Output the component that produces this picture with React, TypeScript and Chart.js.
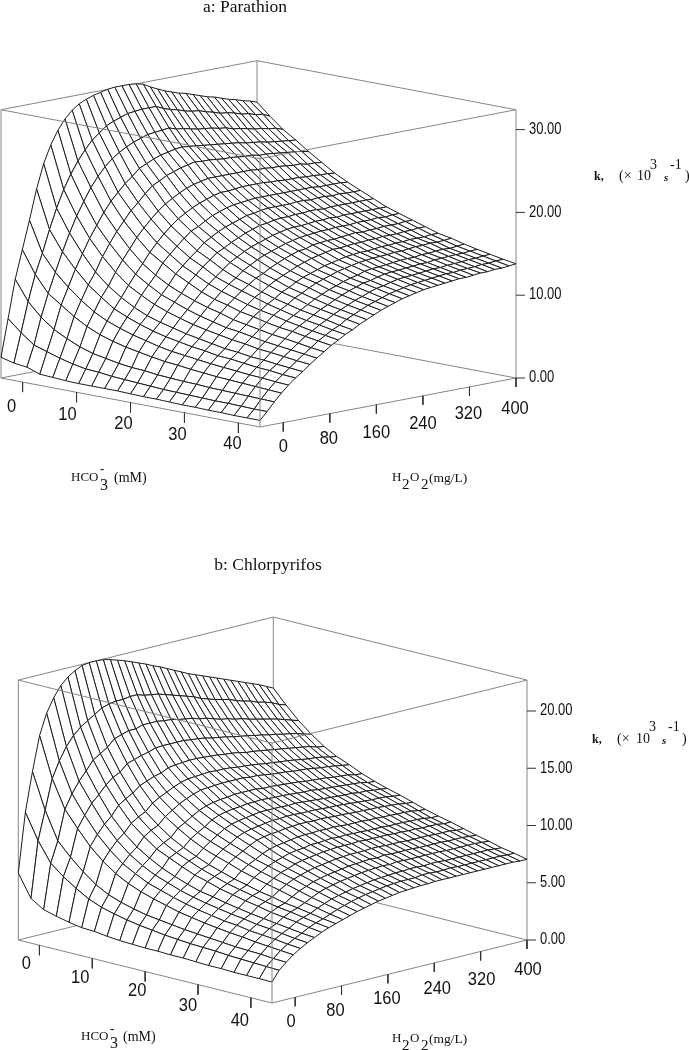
import React, { useEffect, useRef } from "react";
import { Chart, registerables } from "chart.js";

Chart.register(...registerables);

// HCO3- (mM) grid lines and H2O2 (mg/L) grid lines of both surfaces
const hco3Grid = [-4, -1.6, 0.8, 3.2, 5.6, 8, 10.4, 12.8, 15.2, 17.6, 20, 22.4, 24.8, 27.2, 29.6, 32, 34.4, 36.8, 39.2, 41.6, 44];
const h2o2Grid = [-40, -27.78, -15.56, -3.33, 8.89, 21.11, 33.33, 45.56, 57.78, 70, 82.22, 94.44, 106.67, 118.89, 131.11, 143.33, 155.56, 167.78, 180, 192.22, 204.44, 216.67, 228.89, 241.11, 253.33, 265.56, 277.78, 290, 302.22, 314.44, 326.67, 338.89, 351.11, 363.33, 375.56, 387.78, 400];

const hco3Ticks = [0, 10, 20, 30, 40];
const h2o2Ticks = [0, 80, 160, 240, 320, 400];
const parathionKTicks = [0, 10, 20, 30];
const chlorpyrifosKTicks = [0, 5, 10, 15, 20];

// Parathion: k along H2O2, one list per HCO3- grid line
const pk00 = [2.5, 7, 11.6, 15, 18.4, 22, 24.9, 27, 28.6, 29.8, 30.7, 31.3, 31.7, 32, 32.2, 32.4, 32.5, 32.5, 32.5, 32.4, 32.2, 31.7, 31.3, 30.9, 30.6, 30.3, 30.1, 29.8, 29.5, 29.2, 29, 28.7, 28.4, 28.2, 27.9, 27.7, 27.4];
const pk01 = [2.1, 5.6, 9.2, 12.3, 14.7, 17.4, 19.8, 21.9, 23.6, 25, 26.2, 27.2, 27.9, 28.6, 29, 29.3, 29.6, 29.7, 29.8, 29.8, 29.8, 29.4, 29.1, 28.9, 28.6, 28.4, 28.3, 28, 27.8, 27.5, 27.4, 27.2, 26.9, 26.8, 26.5, 26.4, 26];
const pk02 = [1.9, 4.4, 7.6, 10.3, 12.7, 15, 17.1, 19, 20.6, 22.1, 23.3, 24.3, 25.1, 25.7, 26.2, 26.6, 26.9, 27.2, 27.3, 27.4, 27.5, 27.2, 27.1, 26.9, 26.7, 26.6, 26.5, 26.3, 26.2, 25.9, 25.8, 25.6, 25.4, 25.3, 25.1, 25, 24.7];
const pk03 = [1.35, 3.9, 6.4, 9.2, 11.2, 13.2, 14.9, 16.6, 18, 19.4, 20.6, 21.5, 22.4, 23.1, 23.9, 24.3, 24.7, 25, 25.2, 25.4, 25.5, 25.4, 25.3, 25.2, 25.1, 25, 24.9, 24.8, 24.7, 24.5, 24.4, 24.3, 24.1, 24, 23.9, 23.8, 23.7];
const pk04 = [1.25, 3.4, 5.6, 8.1, 9.9, 11.6, 13, 14.7, 16.1, 17.4, 18.5, 19.6, 20.4, 21.3, 22.1, 22.5, 23, 23.3, 23.6, 23.8, 24, 23.9, 23.9, 23.8, 23.7, 23.7, 23.6, 23.5, 23.5, 23.3, 23.3, 23.2, 23.1, 23, 22.9, 22.8, 22.6];
const pk05 = [1.15, 3, 4.9, 7.2, 8.8, 10.4, 11.6, 13.1, 14.4, 15.6, 16.8, 17.8, 18.7, 19.5, 20.2, 20.7, 21.2, 21.6, 21.9, 22.1, 22.3, 22.3, 22.3, 22.3, 22.3, 22.3, 22.3, 22.2, 22.2, 22.1, 22.1, 22, 21.9, 21.9, 21.7, 21.7, 21.6];
const pk06 = [1.1, 2.7, 4.4, 6.5, 8, 9.3, 10.5, 11.8, 13, 14.1, 15.3, 16.3, 17.2, 18, 18.7, 19.2, 19.7, 20.1, 20.4, 20.7, 20.9, 20.9, 21, 21.1, 21.1, 21.1, 21.1, 21, 21, 20.9, 20.9, 20.9, 20.8, 20.8, 20.7, 20.7, 20.6];
const pk07 = [1.1, 2.6, 4.1, 6, 7.4, 8.6, 9.6, 10.9, 12, 13, 14.3, 15.2, 16, 16.8, 17.5, 17.9, 18.4, 18.9, 19.2, 19.5, 19.7, 19.8, 19.9, 20, 20, 20, 20, 20, 20, 20, 20, 20, 19.9, 19.9, 19.9, 19.9, 19.8];
const pk08 = [1.1, 2.4, 3.8, 5.6, 6.9, 8, 8.9, 10.1, 11.1, 12.1, 13.3, 14.1, 14.9, 15.6, 16.4, 16.9, 17.4, 17.8, 18.1, 18.4, 18.7, 18.8, 19, 19.1, 19.1, 19.1, 19.1, 19.2, 19.2, 19.1, 19.2, 19.2, 19.1, 19.2, 19.1, 19.1, 19.1];
const pk09 = [1.1, 2.3, 3.6, 5.3, 6.5, 7.5, 8.4, 9.5, 10.5, 11.4, 12.5, 13.3, 14.1, 14.8, 15.5, 15.9, 16.4, 16.8, 17.2, 17.5, 17.8, 17.9, 18.1, 18.2, 18.2, 18.3, 18.3, 18.4, 18.4, 18.3, 18.4, 18.4, 18.4, 18.4, 18.4, 18.4, 18.4];
const pk10 = [1.05, 2.2, 3.5, 5, 6.1, 7.1, 8, 9, 9.9, 10.8, 11.7, 12.5, 13.2, 13.9, 14.6, 15.1, 15.6, 16, 16.3, 16.6, 16.9, 17.1, 17.3, 17.4, 17.4, 17.5, 17.6, 17.6, 17.7, 17.6, 17.7, 17.7, 17.7, 17.7, 17.7, 17.7, 17.7];
const pk11 = [1, 2.1, 3.3, 4.75, 5.8, 6.8, 7.6, 8.55, 9.4, 10.3, 11.1, 11.9, 12.6, 13.2, 13.9, 14.4, 14.9, 15.3, 15.6, 15.9, 16.2, 16.4, 16.6, 16.7, 16.8, 16.9, 16.9, 17, 17, 17, 17.1, 17.1, 17.1, 17.2, 17.1, 17.2, 17.2];
const pk12 = [1, 2, 3.2, 4.6, 5.6, 6.5, 7.3, 8.2, 9, 9.9, 10.7, 11.4, 12.1, 12.7, 13.3, 13.7, 14.2, 14.6, 15, 15.3, 15.6, 15.7, 16, 16.1, 16.2, 16.2, 16.3, 16.4, 16.5, 16.4, 16.5, 16.5, 16.6, 16.6, 16.6, 16.7, 16.7];
const pk13 = [0.95, 1.95, 3.1, 4.4, 5.4, 6.3, 7, 7.9, 8.6, 9.4, 10.2, 10.9, 11.6, 12.1, 12.7, 13.2, 13.6, 14, 14.4, 14.7, 15, 15.2, 15.4, 15.6, 15.6, 15.7, 15.8, 15.8, 15.9, 15.9, 16, 16, 16, 16.1, 16.1, 16.2, 16.2];
const pk14 = [0.9, 1.9, 3.05, 4.25, 5.2, 6, 6.7, 7.6, 8.4, 9.1, 9.9, 10.5, 11.1, 11.6, 12.2, 12.6, 13.1, 13.5, 13.8, 14.1, 14.4, 14.6, 14.8, 15, 15.1, 15.2, 15.2, 15.3, 15.4, 15.4, 15.5, 15.5, 15.6, 15.6, 15.6, 15.7, 15.7];
const pk15 = [0.9, 1.85, 2.95, 4.1, 5.05, 5.9, 6.55, 7.4, 8.1, 8.8, 9.5, 10.2, 10.7, 11.2, 11.8, 12.2, 12.7, 13.1, 13.4, 13.7, 14, 14.2, 14.4, 14.6, 14.7, 14.8, 14.85, 14.9, 15, 15, 15.1, 15.2, 15.2, 15.3, 15.25, 15.3, 15.4];
const pk16 = [0.85, 1.8, 2.9, 4, 4.9, 5.7, 6.3, 7.1, 7.8, 8.5, 9.2, 9.8, 10.3, 10.8, 11.3, 11.8, 12.2, 12.6, 12.9, 13.25, 13.5, 13.7, 14, 14.15, 14.2, 14.3, 14.4, 14.5, 14.55, 14.55, 14.7, 14.7, 14.8, 14.85, 14.8, 14.9, 15];
const pk17 = [0.85, 1.8, 2.85, 3.9, 4.75, 5.5, 6.2, 6.95, 7.6, 8.3, 9, 9.5, 10, 10.5, 11, 11.4, 11.85, 12.25, 12.6, 12.9, 13.2, 13.35, 13.6, 13.8, 13.9, 13.95, 14.05, 14.1, 14.2, 14.2, 14.35, 14.4, 14.45, 14.5, 14.5, 14.6, 14.65];
const pk18 = [0.8, 1.75, 2.8, 3.8, 4.65, 5.4, 6, 6.75, 7.4, 8.05, 8.7, 9.2, 9.75, 10.2, 10.7, 11.1, 11.5, 11.9, 12.2, 12.55, 12.85, 13, 13.25, 13.45, 13.55, 13.6, 13.7, 13.8, 13.9, 13.9, 14, 14.05, 14.1, 14.2, 14.2, 14.3, 14.35];
const pk19 = [0.8, 1.7, 2.75, 3.7, 4.5, 5.2, 5.85, 6.55, 7.2, 7.8, 8.45, 8.95, 9.45, 9.85, 10.4, 10.8, 11.2, 11.6, 11.9, 12.2, 12.5, 12.7, 12.9, 13.1, 13.2, 13.3, 13.4, 13.5, 13.6, 13.6, 13.7, 13.75, 13.8, 13.9, 13.9, 14, 14.05];
const pk20 = [0.8, 1.7, 2.7, 3.6, 4.4, 5.1, 5.7, 6.4, 7, 7.6, 8.2, 8.7, 9.2, 9.6, 10.1, 10.5, 10.9, 11.3, 11.6, 11.9, 12.2, 12.4, 12.6, 12.8, 12.9, 13, 13.1, 13.2, 13.3, 13.3, 13.4, 13.5, 13.5, 13.6, 13.6, 13.7, 13.8];
const parathionK = [pk00, pk01, pk02, pk03, pk04, pk05, pk06, pk07, pk08, pk09, pk10, pk11, pk12, pk13, pk14, pk15, pk16, pk17, pk18, pk19, pk20];

// Chlorpyrifos: k along H2O2, one list per HCO3- grid line
const ck00 = [5.85, 11, 14.4, 17.4, 19.2, 20.4, 21.3, 21.9, 22.3, 22.6, 22.7, 22.7, 22.65, 22.5, 22.3, 22.1, 21.85, 21.6, 21.35, 21.05, 20.8, 20.5, 20.2, 19.9, 19.6, 19.35, 19.1, 18.85, 18.6, 18.35, 18.1, 17.85, 17.6, 17.35, 17.1, 16.8, 16.5];
const ck01 = [3.9, 8.8, 11.3, 13.9, 15.3, 16.4, 17.2, 17.8, 18.2, 18.6, 19, 19.2, 19.3, 19.3, 19.4, 19.4, 19.2, 19.1, 19, 18.8, 18.6, 18.4, 18.2, 18, 17.7, 17.5, 17.3, 17.15, 17, 16.75, 16.55, 16.4, 16.15, 16, 15.8, 15.5, 15.3];
const ck02 = [3.2, 7.1, 8.9, 11.5, 12.7, 13.65, 14.4, 15.2, 15.6, 16, 16.6, 16.8, 17, 17, 17.2, 17.2, 17.2, 17.1, 17.05, 16.9, 16.8, 16.7, 16.5, 16.4, 16.2, 16, 15.9, 15.7, 15.6, 15.4, 15.25, 15.1, 14.95, 14.8, 14.6, 14.4, 14.2];
const ck03 = [2.9, 6.2, 7.75, 10.1, 11.1, 12, 12.6, 13.3, 13.8, 14.1, 14.7, 14.9, 15.1, 15.25, 15.45, 15.5, 15.5, 15.5, 15.5, 15.4, 15.35, 15.25, 15.1, 15, 14.9, 14.75, 14.65, 14.55, 14.4, 14.3, 14.15, 14.05, 13.9, 13.8, 13.65, 13.45, 13.3];
const ck04 = [2.65, 5.45, 6.75, 8.8, 9.7, 10.45, 11, 11.8, 12.2, 12.55, 13.05, 13.3, 13.55, 13.7, 14, 14.1, 14.15, 14.2, 14.2, 14.15, 14.1, 14.05, 13.95, 13.9, 13.8, 13.65, 13.6, 13.5, 13.4, 13.3, 13.2, 13.1, 13, 12.9, 12.8, 12.6, 12.5];
const ck05 = [2.45, 4.8, 5.9, 7.8, 8.6, 9.3, 9.8, 10.5, 10.9, 11.2, 11.8, 12.15, 12.45, 12.75, 13, 13.15, 13.2, 13.25, 13.3, 13.25, 13.25, 13.2, 13.1, 13.05, 13, 12.9, 12.8, 12.75, 12.65, 12.6, 12.5, 12.4, 12.3, 12.25, 12.15, 12, 11.9];
const ck06 = [2.4, 4.35, 5.3, 7, 7.7, 8.35, 8.85, 9.6, 10, 10.3, 10.9, 11.3, 11.7, 12, 12.25, 12.45, 12.5, 12.55, 12.6, 12.6, 12.6, 12.6, 12.5, 12.5, 12.4, 12.3, 12.25, 12.2, 12.1, 12.05, 12, 11.9, 11.8, 11.75, 11.65, 11.55, 11.45];
const ck07 = [2.25, 4.05, 4.9, 6.4, 7.1, 7.65, 8.15, 8.8, 9.2, 9.5, 10.15, 10.5, 10.9, 11.25, 11.5, 11.65, 11.75, 11.8, 11.9, 11.9, 11.9, 11.9, 11.8, 11.8, 11.75, 11.7, 11.65, 11.6, 11.5, 11.45, 11.4, 11.35, 11.25, 11.2, 11.15, 11, 10.95];
const ck08 = [2.15, 3.8, 4.6, 5.95, 6.55, 7.1, 7.55, 8.3, 8.6, 8.9, 9.5, 9.9, 10.25, 10.7, 10.95, 11.1, 11.2, 11.25, 11.35, 11.35, 11.4, 11.35, 11.3, 11.3, 11.25, 11.2, 11.15, 11.15, 11.05, 11, 10.95, 10.9, 10.85, 10.8, 10.75, 10.6, 10.55];
const ck09 = [2.1, 3.6, 4.35, 5.6, 6.2, 6.7, 7.1, 7.8, 8.15, 8.4, 8.95, 9.4, 9.8, 10.2, 10.45, 10.6, 10.7, 10.8, 10.9, 10.9, 10.9, 10.9, 10.85, 10.9, 10.85, 10.8, 10.75, 10.7, 10.65, 10.6, 10.55, 10.55, 10.45, 10.45, 10.35, 10.3, 10.2];
const ck10 = [2.05, 3.45, 4.2, 5.3, 5.85, 6.3, 6.7, 7.35, 7.7, 7.95, 8.55, 9, 9.35, 9.75, 10, 10.15, 10.25, 10.35, 10.45, 10.45, 10.5, 10.5, 10.45, 10.45, 10.45, 10.4, 10.35, 10.35, 10.3, 10.25, 10.2, 10.15, 10.1, 10.1, 10.05, 9.95, 9.9];
const ck11 = [2.05, 3.3, 4.05, 5, 5.55, 6, 6.35, 7.05, 7.35, 7.6, 8.2, 8.6, 8.95, 9.3, 9.6, 9.75, 9.85, 9.9, 10, 10.05, 10.1, 10.1, 10.05, 10.1, 10.05, 10, 10, 9.95, 9.9, 9.9, 9.85, 9.85, 9.8, 9.75, 9.7, 9.6, 9.55];
const ck12 = [2, 3.2, 3.9, 4.8, 5.3, 5.75, 6.15, 6.7, 7, 7.25, 7.8, 8.2, 8.5, 8.85, 9.1, 9.25, 9.35, 9.45, 9.55, 9.6, 9.6, 9.65, 9.6, 9.65, 9.6, 9.55, 9.55, 9.55, 9.5, 9.5, 9.45, 9.45, 9.4, 9.4, 9.35, 9.25, 9.2];
const ck13 = [2, 3.1, 3.8, 4.6, 5.1, 5.55, 5.9, 6.45, 6.75, 7, 7.5, 7.85, 8.2, 8.45, 8.65, 8.85, 8.95, 9, 9.15, 9.15, 9.2, 9.25, 9.2, 9.25, 9.2, 9.2, 9.15, 9.15, 9.15, 9.1, 9.1, 9.1, 9.05, 9.05, 9, 8.9, 8.9];
const ck14 = [1.95, 3.05, 3.7, 4.45, 4.9, 5.35, 5.7, 6.2, 6.5, 6.7, 7.2, 7.55, 7.9, 8.1, 8.35, 8.5, 8.6, 8.7, 8.8, 8.85, 8.9, 8.9, 8.9, 8.95, 8.9, 8.9, 8.9, 8.9, 8.85, 8.85, 8.8, 8.8, 8.75, 8.75, 8.75, 8.65, 8.65];
const ck15 = [1.9, 3, 3.6, 4.3, 4.8, 5.2, 5.5, 6, 6.25, 6.5, 6.95, 7.3, 7.6, 7.8, 8, 8.15, 8.25, 8.35, 8.45, 8.5, 8.55, 8.55, 8.55, 8.6, 8.6, 8.55, 8.55, 8.55, 8.5, 8.5, 8.5, 8.5, 8.45, 8.45, 8.45, 8.35, 8.35];
const ck16 = [1.9, 2.9, 3.5, 4.2, 4.6, 5, 5.35, 5.75, 6.05, 6.25, 6.65, 7, 7.25, 7.5, 7.65, 7.8, 7.9, 8, 8.1, 8.15, 8.2, 8.25, 8.2, 8.3, 8.25, 8.25, 8.25, 8.25, 8.2, 8.2, 8.2, 8.2, 8.15, 8.15, 8.15, 8.1, 8.05];
const ck17 = [1.85, 2.85, 3.45, 4.05, 4.5, 4.9, 5.2, 5.6, 5.9, 6.1, 6.4, 6.7, 7, 7.2, 7.35, 7.5, 7.6, 7.7, 7.8, 7.85, 7.9, 7.95, 7.9, 8, 7.95, 7.95, 7.95, 7.95, 7.95, 7.95, 7.9, 7.9, 7.9, 7.9, 7.9, 7.85, 7.8];
const ck18 = [1.85, 2.8, 3.4, 3.95, 4.4, 4.75, 5.05, 5.45, 5.7, 5.9, 6.2, 6.45, 6.7, 6.85, 7, 7.15, 7.25, 7.35, 7.45, 7.5, 7.55, 7.6, 7.6, 7.65, 7.65, 7.6, 7.65, 7.65, 7.6, 7.6, 7.6, 7.6, 7.6, 7.6, 7.6, 7.55, 7.5];
const ck19 = [1.85, 2.75, 3.3, 3.85, 4.25, 4.6, 4.9, 5.25, 5.5, 5.7, 5.95, 6.2, 6.4, 6.6, 6.75, 6.9, 7, 7.1, 7.2, 7.25, 7.3, 7.3, 7.3, 7.4, 7.4, 7.35, 7.35, 7.4, 7.35, 7.35, 7.35, 7.35, 7.35, 7.35, 7.35, 7.3, 7.3];
const ck20 = [1.83, 2.7, 3.25, 3.75, 4.15, 4.5, 4.8, 5.1, 5.35, 5.55, 5.75, 5.95, 6.15, 6.3, 6.45, 6.6, 6.7, 6.8, 6.9, 6.95, 7, 7.05, 7.05, 7.1, 7.1, 7.1, 7.1, 7.1, 7.1, 7.1, 7.1, 7.1, 7.1, 7.1, 7.1, 7.05, 7.05];
const chlorpyrifosK = [ck00, ck01, ck02, ck03, ck04, ck05, ck06, ck07, ck08, ck09, ck10, ck11, ck12, ck13, ck14, ck15, ck16, ck17, ck18, ck19, ck20];

const SANS = '"Liberation Sans", Arial, sans-serif';
const SERIF = '"Liberation Serif", "Times New Roman", serif';
const hMin = hco3Grid[0];
const hMax = hco3Grid[hco3Grid.length - 1];
const pMin = h2o2Grid[0];
const pMax = h2o2Grid[h2o2Grid.length - 1];

type Txt = { t: string; x: number; y: number; font: string; sy?: number; align?: CanvasTextAlign };

type Panel = {
  top: number; height: number; ox: number; oy: number; ux: number; uy: number; vx: number; vy: number;
  kPx: number; kMax: number; rows: number[][]; kTicks: number[];
  hOff: number[][]; pOff: number[][]; kLabelX: number; texts: Txt[];
};

const parathion: Panel = {
  top: 0, height: 525, ox: 1, oy: 378, ux: 259, uy: 49, vx: 256, vy: -49, kPx: 8.28, kMax: 32.4,
  rows: parathionK, kTicks: parathionKTicks, kLabelX: 529,
  hOff: [[-11, 25], [-9, 22], [-7, 21], [-7, 22], [-6, 21]],
  pOff: [[0, 24], [-1, 25], [0, 28], [0, 28], [-1, 27], [-1, 31]],
  texts: [
    { t: "a: Parathion", x: 245, y: 7, font: `17.5px ${SERIF}`, align: "center" },
    { t: "k,", x: 594, y: 177, font: `bold 12px ${SERIF}` },
    { t: "(×", x: 619, y: 176, font: `14px ${SERIF}` },
    { t: "10", x: 637, y: 176, font: `14px ${SERIF}` },
    { t: "3", x: 650, y: 165, font: `14px ${SERIF}` },
    { t: "s", x: 664, y: 178, font: `italic bold 11px ${SERIF}` },
    { t: "-1", x: 670, y: 165, font: `14px ${SERIF}` },
    { t: ")", x: 685, y: 176, font: `14px ${SERIF}` },
    { t: "HCO", x: 71, y: 478, font: `13px ${SERIF}` },
    { t: "-", x: 100, y: 470, font: `bold 13px ${SERIF}` },
    { t: "3", x: 100, y: 486, font: `16px ${SERIF}` },
    { t: "(mM)", x: 114, y: 478, font: `14px ${SERIF}` },
    { t: "H", x: 392, y: 478, font: `13px ${SERIF}` },
    { t: "2", x: 402, y: 485, font: `15px ${SERIF}` },
    { t: "O", x: 410, y: 478, font: `13px ${SERIF}` },
    { t: "2", x: 421, y: 485, font: `15px ${SERIF}` },
    { t: "(mg/L)", x: 429, y: 478, font: `13.5px ${SERIF}` },
  ],
};

const chlorpyrifos: Panel = {
  top: 525, height: 525, ox: 18.3, oy: 940, ux: 253.7, uy: 63, vx: 255, vy: -63, kPx: 11.45, kMax: 22.7,
  rows: chlorpyrifosK, kTicks: chlorpyrifosKTicks, kLabelX: 540,
  hOff: [[-13, 19], [-12, 19], [-8, 19], [-10, 21], [-11, 23]],
  pOff: [[-4, 24], [-6, 25], [-1, 24], [3, 26], [1, 28], [1, 30]],
  texts: [
    { t: "b: Chlorpyrifos", x: 268, y: 565, font: `17.5px ${SERIF}`, align: "center" },
    { t: "k,", x: 592, y: 740, font: `bold 12px ${SERIF}` },
    { t: "(×", x: 617, y: 739, font: `14px ${SERIF}` },
    { t: "10", x: 636, y: 739, font: `14px ${SERIF}` },
    { t: "3", x: 649, y: 727, font: `14px ${SERIF}` },
    { t: "s", x: 662, y: 741, font: `italic bold 11px ${SERIF}` },
    { t: "-1", x: 668, y: 727, font: `14px ${SERIF}` },
    { t: ")", x: 682, y: 739, font: `14px ${SERIF}` },
    { t: "HCO", x: 81, y: 1037, font: `13px ${SERIF}` },
    { t: "-", x: 110, y: 1030, font: `bold 13px ${SERIF}` },
    { t: "3", x: 110, y: 1044, font: `16px ${SERIF}` },
    { t: "(mM)", x: 123, y: 1037, font: `14px ${SERIF}` },
    { t: "H", x: 392, y: 1039, font: `13px ${SERIF}` },
    { t: "2", x: 402, y: 1046, font: `15px ${SERIF}` },
    { t: "O", x: 410, y: 1039, font: `13px ${SERIF}` },
    { t: "2", x: 421, y: 1046, font: `15px ${SERIF}` },
    { t: "(mg/L)", x: 429, y: 1039, font: `13.5px ${SERIF}` },
  ],
};

function project(p: Panel, hco3: number, h2o2: number, k: number) {
  const u = (hco3 - hMin) / (hMax - hMin);
  const v = (h2o2 - pMin) / (pMax - pMin);
  return { x: p.ox + u * p.ux + v * p.vx, y: p.oy - p.top + u * p.uy + v * p.vy - k * p.kPx };
}

function segment(points: { x: number; y: number }[], color: string, width = 1) {
  return {
    data: points, showLine: true, fill: false, borderColor: color, borderWidth: width,
    pointRadius: 0, tension: 0,
  };
}

function buildDatasets(p: Panel) {
  const BOX = "#858585";
  const TICK = "#333333";
  const corner = (h: number, o: number, k: number) => project(p, h, o, k);
  const back: any[] = [
    segment([corner(hMin, pMin, p.kMax), corner(hMin, pMax, p.kMax), corner(hMax, pMax, p.kMax)], BOX),
    segment([corner(hMin, pMax, 0), corner(hMin, pMax, p.kMax)], BOX),
    segment([corner(hMin, pMin, 0), corner(hMin, pMax, 0), corner(hMax, pMax, 0)], BOX),
    segment([corner(hMin, pMin, 0), corner(hMin, pMin, p.kMax)], BOX),
    segment([corner(hMax, pMax, 0), corner(hMax, pMax, p.kMax)], BOX),
  ];
  const quads: any[] = [];
  for (let i = 0; i < hco3Grid.length - 1; i++) {
    for (let j = h2o2Grid.length - 2; j >= 0; j--) {
      const a = project(p, hco3Grid[i], h2o2Grid[j], p.rows[i][j]);
      const b = project(p, hco3Grid[i], h2o2Grid[j + 1], p.rows[i][j + 1]);
      const c = project(p, hco3Grid[i + 1], h2o2Grid[j + 1], p.rows[i + 1][j + 1]);
      const d = project(p, hco3Grid[i + 1], h2o2Grid[j], p.rows[i + 1][j]);
      quads.push({
        data: [a, b, c, d, a], showLine: true, fill: "shape", backgroundColor: "#ffffff",
        borderColor: "#1c1c1c", borderWidth: 1, pointRadius: 0, tension: 0,
      });
    }
  }
  const front: any[] = [
    segment([corner(hMin, pMin, p.kMax), corner(hMax, pMin, p.kMax), corner(hMax, pMax, p.kMax)], BOX),
    segment([corner(hMax, pMin, 0), corner(hMax, pMin, p.kMax)], BOX),
    segment([corner(hMin, pMin, 0), corner(hMax, pMin, 0), corner(hMax, pMax, 0)], BOX),
  ];
  const ticks: any[] = [];
  for (const h of hco3Ticks) {
    const a = project(p, h, pMin, 0);
    ticks.push(segment([a, { x: a.x, y: a.y + 10 }], TICK));
  }
  for (const o of h2o2Ticks) {
    const a = project(p, hMax, o, 0);
    ticks.push(segment([a, { x: a.x, y: a.y + 9 }], TICK));
  }
  for (const k of p.kTicks) {
    const a = project(p, hMax, pMax, k);
    ticks.push(segment([a, { x: a.x + 9, y: a.y }], TICK));
  }
  // Chart.js paints the first dataset last, so the painter's order is reversed here.
  return [...back, ...quads, ...front, ...ticks].reverse();
}

function labelPlugin(p: Panel) {
  const draw = (ctx: CanvasRenderingContext2D, tx: Txt) => {
    ctx.save();
    ctx.translate(tx.x, tx.y - p.top);
    ctx.scale(1, tx.sy ?? 1);
    ctx.font = tx.font;
    ctx.textAlign = tx.align ?? "left";
    ctx.textBaseline = "middle";
    ctx.fillStyle = "#111111";
    ctx.fillText(tx.t, 0, 0);
    ctx.restore();
  };
  return {
    id: "panelLabels",
    afterDatasetsDraw(chart: any) {
      const ctx = chart.ctx as CanvasRenderingContext2D;
      for (const tx of p.texts) draw(ctx, tx);
      const tickFont = `16.5px ${SANS}`;
      hco3Ticks.forEach((h, n) => {
        const a = project(p, h, pMin, 0);
        draw(ctx, { t: String(h), x: a.x + p.hOff[n][0], y: a.y + p.top + p.hOff[n][1], font: tickFont, sy: 1.15, align: "center" });
      });
      h2o2Ticks.forEach((o, n) => {
        const a = project(p, hMax, o, 0);
        draw(ctx, { t: String(o), x: a.x + p.pOff[n][0], y: a.y + p.top + p.pOff[n][1], font: tickFont, sy: 1.15, align: "center" });
      });
      for (const k of p.kTicks) {
        const a = project(p, hMax, pMax, k);
        draw(ctx, { t: k.toFixed(2), x: p.kLabelX, y: a.y + p.top, font: `13px ${SANS}`, sy: 1.2 });
      }
    },
  };
}

function SurfacePanel({ panel }: { panel: Panel }) {
  const ref = useRef<HTMLCanvasElement | null>(null);
  useEffect(() => {
    const chart = new Chart(ref.current as HTMLCanvasElement, {
      type: "scatter",
      data: { datasets: buildDatasets(panel) },
      options: {
        animation: false,
        responsive: false,
        devicePixelRatio: 1,
        events: [],
        layout: { padding: 0 },
        plugins: { legend: { display: false }, tooltip: { enabled: false }, title: { display: false } },
        scales: {
          x: { type: "linear", display: false, min: 0, max: 689 },
          y: { type: "linear", display: false, min: 0, max: panel.height, reverse: true },
        },
      },
      plugins: [labelPlugin(panel)],
    } as any);
    return () => chart.destroy();
  }, [panel]);
  return <canvas ref={ref} width={689} height={panel.height} style={{ display: "block", width: 689, height: panel.height }} />;
}

export default function App() {
  useEffect(() => {
    document.body.style.margin = "0";
    document.body.style.background = "#ffffff";
  }, []);
  return (
    <div style={{ position: "absolute", left: 0, top: 0, width: 689, height: 1050, overflow: "hidden", background: "#fff" }}>
      <SurfacePanel panel={parathion} />
      <SurfacePanel panel={chlorpyrifos} />
    </div>
  );
}
